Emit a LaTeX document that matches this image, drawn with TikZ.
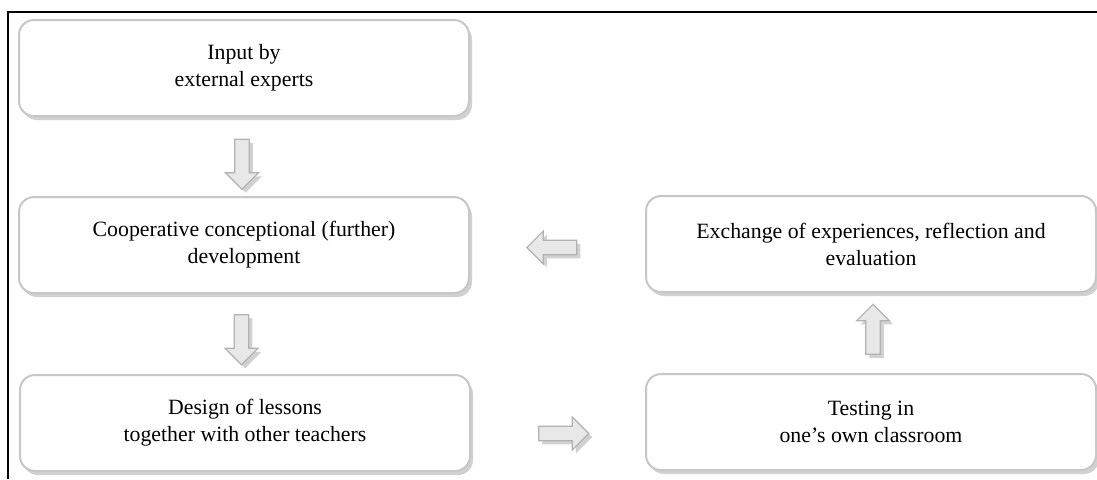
\documentclass[tikz,border=0pt]{standalone}
\usepackage{fontspec}
\setmainfont{Liberation Serif}
\usetikzlibrary{shapes.arrows,shadows,calc}
\begin{document}
\begin{tikzpicture}[x=0.5pt,y=-0.5pt,
    stage/.style={draw=black!22,line width=1pt,fill=white,rounded corners=7.5pt,
        minimum width=225pt,minimum height=48pt,align=center,
        font=\fontsize{10.9pt}{13.5pt}\selectfont,
        drop shadow={shadow xshift=1.5pt,shadow yshift=-2pt,fill=black!18,opacity=1}},
    flow/.style={single arrow,draw=black!30,fill=black!9,line width=0.6pt,
        minimum height=25pt,minimum width=16.5pt,inner sep=3.3pt,
        single arrow head extend=4.5pt,single arrow head indent=0pt,
        drop shadow={shadow xshift=1.8pt,shadow yshift=-1.8pt,fill=black!18,opacity=1}}]
        \useasboundingbox (0,0) rectangle (1097,479);
        %% Frame
        \draw[line width=1.3pt] (1097,12) -- (8,12) -- (8,479);
        %% Left column
        \node[stage] (input) at (244,68) {Input by\\external experts};
        \node[stage] (coop) at (244,245) {Cooperative conceptional (further)\\development};
        \node[stage] (design) at (245,423) {Design of lessons\\together with other teachers};
        %% Right column
        \node[stage] (exchange) at (871,244) {Exchange of experiences, reflection and\\evaluation};
        \node[stage] (testing) at (871,422) {Testing in\\one’s own classroom};
        %% Block arrows
        \node[flow,rotate=-90] (a1) at ($(input.south)!0.5!(coop.north)+(-2,4)$) {};
        \node[flow,rotate=-90] (a2) at ($(coop.south)!0.5!(design.north)+(-3,2)$) {};
        \node[flow] (a3) at ($(design.east)!0.5!(testing.west)+(2,11)$) {};
        \node[flow,rotate=90] (a4) at ($(testing.north)!0.5!(exchange.south)+(2,0)$) {};
        \node[flow,rotate=180] (a5) at ($(coop.east)!0.5!(exchange.west)+(-2,3)$) {};
    \end{tikzpicture}
\end{document}
